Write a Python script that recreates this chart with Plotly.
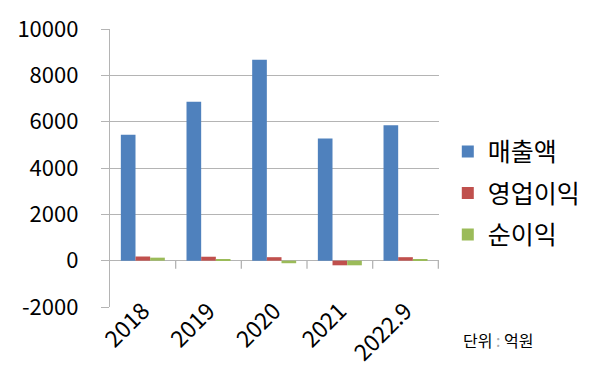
import plotly.graph_objects as go

categories = ["2018", "2019", "2020", "2021", "2022.9"]
sales = [5430, 6860, 8670, 5270, 5850]          # 매출액
op_profit = [180, 170, 150, -200, 150]          # 영업이익
net_profit = [130, 50, -110, -200, 70]          # 순이익

series_names = ["매출액", "영업이익", "순이익"]
colors = ["#4F81BD", "#C0504D", "#9BBB59"]
y_ticks = [-2000, 0, 2000, 4000, 6000, 8000, 10000]
y_tick_labels = ["-2000", "0", "2000", "4000", "6000", "8000", "10000"]

FONT = "Noto Sans CJK KR"
GRID = "#b4b4b4"

fig = go.Figure()
for i, (name, vals) in enumerate(zip(series_names, [sales, op_profit, net_profit])):
    fig.add_trace(go.Bar(
        x=categories, y=vals, name=name,
        marker=dict(color=colors[i], line=dict(width=0)),
        legendgroup=f"g{i}",
    ))

# category tick marks hanging from zero line at boundaries
shapes = []
for k in range(len(categories)):
    shapes.append(dict(
        type="line", xref="x", yref="y", x0=k + 0.5, x1=k + 0.5,
        ysizemode="pixel", yanchor=0, y0=0, y1=-8,
        line=dict(color=GRID, width=1.3),
    ))

fig.update_layout(
    width=600, height=381,
    margin=dict(l=102, r=169, t=21, b=82, autoexpand=False),
    paper_bgcolor="white", plot_bgcolor="white",
    barmode="group", bargap=0.33, bargroupgap=0,
    font=dict(family=FONT, color="black"),
    shapes=shapes,
    showlegend=True,
    legend=dict(
        xref="container", yref="container", x=0.733, y=0.683,
        xanchor="left", yanchor="top",
        font=dict(size=25, family=FONT), traceorder="grouped",
        tracegroupgap=6, itemwidth=30,
        bgcolor="rgba(0,0,0,0)",
    ),
    annotations=[dict(
        xref="paper", yref="paper", x=1.067, y=-0.118,
        xanchor="left", yanchor="middle", showarrow=False,
        text="단위&nbsp;<span style='color:#aaaaaa'>:</span>&nbsp;억원", font=dict(size=16, family=FONT),
    )],
)
fig.update_xaxes(
    type="category", showgrid=False, zeroline=False, showline=False,
    ticks="", tickangle=-45, tickfont=dict(size=23, family=FONT),
    ticklabelstandoff=-15,
)
fig.update_yaxes(
    range=[-2000, 10000], tickvals=y_ticks, ticktext=y_tick_labels,
    showgrid=True, gridcolor=GRID, gridwidth=1.3,
    zeroline=True, zerolinecolor=GRID, zerolinewidth=1.3,
    showline=True, linecolor=GRID, linewidth=1.3,
    ticks="outside", ticklen=8, tickcolor=GRID, tickwidth=1.3,
    tickfont=dict(size=22, family=FONT), ticklabelstandoff=18,
)

fig.write_html("out.html")
